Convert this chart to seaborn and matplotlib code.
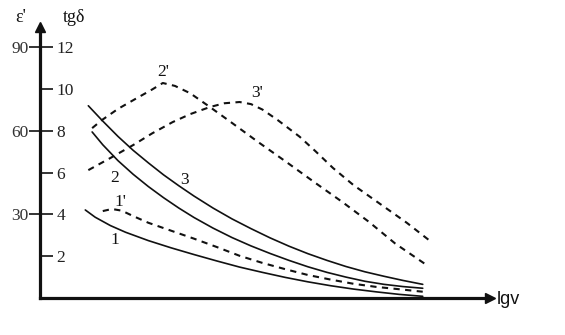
import matplotlib
matplotlib.use("Agg")
import matplotlib.pyplot as plt
import seaborn as sns

# ---- data ----
# solid curves: epsilon' (outer left scale)
lgv_1 = [1.57, 1.70, 1.90, 2.10, 2.40, 2.70, 3.00, 3.30, 3.60, 3.90, 4.20,
         4.50, 4.80, 5.10, 5.40, 5.70, 6.01]
eps_1 = [31.6, 29.0, 26.0, 23.6, 20.6, 18.0, 15.6, 13.3, 11.1, 9.2, 7.4,
         5.8, 4.4, 3.2, 2.2, 1.3, 0.6]

lgv_2 = [1.66, 1.80, 2.00, 2.20, 2.40, 2.60, 2.80, 3.00, 3.25, 3.50, 3.75,
         4.00, 4.25, 4.50, 4.75, 5.00, 5.25, 5.50, 5.75, 6.01]
eps_2 = [59.6, 55.0, 49.3, 44.4, 40.0, 36.0, 32.3, 28.9, 25.1, 21.7, 18.7,
         16.0, 13.5, 11.2, 9.2, 7.5, 6.0, 4.9, 4.1, 3.5]

lgv_3 = [1.61, 1.80, 2.00, 2.20, 2.40, 2.60, 2.80, 3.00, 3.25, 3.50, 3.75,
         4.00, 4.25, 4.50, 4.75, 5.00, 5.25, 5.50, 5.75, 6.01]
eps_3 = [69.0, 63.5, 58.0, 53.0, 48.5, 44.2, 40.3, 36.6, 32.3, 28.4, 24.9,
         21.6, 18.6, 15.9, 13.5, 11.3, 9.4, 7.8, 6.3, 4.9]

# dashed curves: tg(delta) (inner scale)
lgv_1p = [1.80, 1.92, 2.05, 2.20, 2.40, 2.70, 3.00, 3.30, 3.60, 3.90, 4.20,
          4.50, 4.80, 5.10, 5.40, 5.70, 6.01]
tgd_1p = [4.16, 4.26, 4.18, 3.92, 3.60, 3.22, 2.84, 2.44, 2.02, 1.68, 1.38,
          1.10, 0.88, 0.68, 0.53, 0.42, 0.30]

lgv_2p = [1.66, 1.79, 2.00, 2.25, 2.45, 2.59, 2.75, 2.95, 3.21, 3.50, 3.85,
          4.20, 4.60, 4.95, 5.30, 5.65, 6.04]
tgd_2p = [8.13, 8.52, 9.05, 9.57, 9.98, 10.29, 10.15, 9.80, 9.14, 8.38, 7.45,
          6.55, 5.50, 4.60, 3.65, 2.60, 1.63]

lgv_3p = [1.61, 1.90, 2.20, 2.45, 2.72, 2.95, 3.21, 3.40, 3.60, 3.75, 3.90,
          4.10, 4.39, 4.60, 4.83, 5.10, 5.45, 5.80, 6.11]
tgd_3p = [6.12, 6.70, 7.32, 7.88, 8.42, 8.80, 9.14, 9.32, 9.38, 9.28, 9.02,
          8.52, 7.72, 7.02, 6.22, 5.40, 4.50, 3.60, 2.72]

x_ticks = [1, 2, 3, 4, 5, 6]
x_tick_labels = ["0", "2", "3", "4", "5", "6"]
tgd_ticks = [2, 4, 6, 8, 10, 12]
eps_ticks = [30, 60, 90]
EPS_PER_TGD = 7.5

curve_labels = ["1", "1'", "2", "3", "2'", "3'"]
label_x = [1.96, 2.03, 1.96, 2.88, 2.59, 3.83]
label_y = [2.78, 4.59, 5.74, 5.65, 10.81, 9.81]   # in tg(delta) units

# ---- style ----
sns.set_style("white")
plt.rcParams["font.family"] = ["Liberation Serif", "DejaVu Serif"]

fig = plt.figure(figsize=(5.65, 3.35), dpi=100)
ax = fig.add_axes([40 / 565, 37 / 335, 450 / 565, 271 / 335])
ax.set_xlim(0.974, 6.895)
ymax = 12.97
ax.set_ylim(0, ymax)
ax2 = ax.twinx()
ax2.set_ylim(0, ymax * EPS_PER_TGD)
ax2.set_xlim(ax.get_xlim())

ink = "#111111"
for x, y in [(lgv_1, eps_1), (lgv_2, eps_2), (lgv_3, eps_3)]:
    sns.lineplot(x=x, y=y, ax=ax2, color=ink, lw=1.2, sort=False,
                 estimator=None, legend=False)

for x, y in [(lgv_1p, tgd_1p), (lgv_2p, tgd_2p), (lgv_3p, tgd_3p)]:
    sns.lineplot(x=x, y=y, ax=ax, color=ink, lw=1.5, sort=False,
                 estimator=None, legend=False,
                 linestyle=(0, (3.0, 2.6)))

for t, lx, ly in zip(curve_labels, label_x, label_y):
    ax.text(lx, ly, t, fontsize=12.5, ha="center", va="center", color=ink)

# ---- axes styling ----
for s in ["top", "right"]:
    ax.spines[s].set_visible(False)
for s in ax2.spines.values():
    s.set_visible(False)
for s in ["left", "bottom"]:
    ax.spines[s].set_linewidth(2.3)
    ax.spines[s].set_color(ink)

ax.set_xticks(x_ticks)
ax.set_xticklabels(x_tick_labels, fontsize=12.5, color="#333333")
ax.tick_params(axis="x", direction="in", length=3, width=1, pad=8,
               color="#555555")

ax.set_yticks(tgd_ticks)
ax.set_yticklabels([str(v) for v in tgd_ticks], fontsize=12.5, color="#222222")
ax.tick_params(axis="y", direction="in", length=9, width=1.2, pad=-12,
               color=ink)
for lbl in ax.get_yticklabels():
    lbl.set_horizontalalignment("left")

ax2.yaxis.tick_left()
ax2.set_yticks(eps_ticks)
ax2.set_yticklabels([str(v) for v in eps_ticks], fontsize=12.5,
                    color="#333333")
ax2.tick_params(axis="y", direction="out", length=8, width=1.2, pad=0,
                color=ink)
ax2.set_xticks([])

# arrowheads
ax.plot([1.0], [0.0], marker=">", ms=7, color=ink, transform=ax.transAxes,
        clip_on=False)
ax.plot([0.0], [1.0], marker="^", ms=7, color=ink, transform=ax.transAxes,
        clip_on=False)

fig.text(497 / 565, 1 - 300 / 335, "lgv", fontsize=13, ha="left",
         va="center", family=["Liberation Sans", "DejaVu Sans"], color=ink)
fig.text(21 / 565, 1 - 17 / 335, "ε'", fontsize=13, ha="center",
         va="center", color=ink)
fig.text(74 / 565, 1 - 17 / 335, "tgδ", fontsize=13, ha="center",
         va="center", color=ink)

fig.savefig("out.png", dpi=100)
